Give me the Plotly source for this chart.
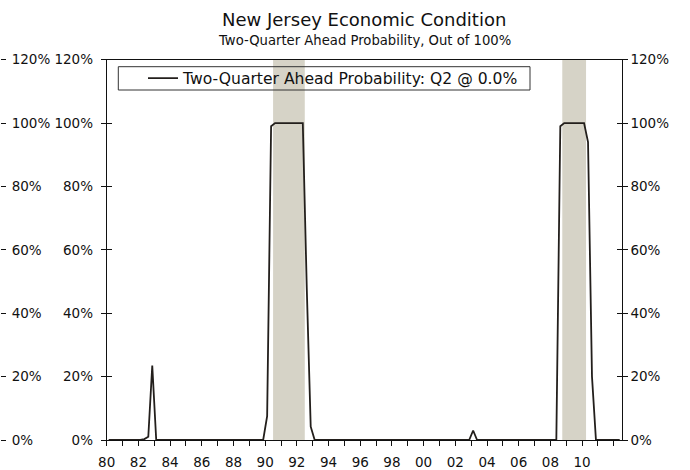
import plotly.graph_objects as go

# ---- data -------------------------------------------------------------
years = list(range(1980, 2013))
# Two-quarter ahead probability (%), quarterly, 1980Q1 .. 2012Q2
prob = [
    0, 0, 0, 0,        # 1980
    0, 0, 0, 0,        # 1981
    0, 0.3, 1, 23.5,   # 1982
    0, 0, 0, 0,        # 1983
    0, 0, 0, 0,        # 1984
    0, 0, 0, 0,        # 1985
    0, 0, 0, 0,        # 1986
    0, 0, 0, 0,        # 1987
    0, 0, 0, 0,        # 1988
    0, 0, 0, 0,        # 1989
    7.5, 99, 100, 100, # 1990
    100, 100, 100, 100,# 1991
    100, 100, 48, 4.2, # 1992
    0, 0, 0, 0,        # 1993
    0, 0, 0, 0,        # 1994
    0, 0, 0, 0,        # 1995
    0, 0, 0, 0,        # 1996
    0, 0, 0, 0,        # 1997
    0, 0, 0, 0,        # 1998
    0, 0, 0, 0,        # 1999
    0, 0, 0, 0,        # 2000
    0, 0, 0, 0,        # 2001
    0, 0, 0, 0,        # 2002
    3, 0, 0, 0,        # 2003
    0, 0, 0, 0,        # 2004
    0, 0, 0, 0,        # 2005
    0, 0, 0, 0,        # 2006
    0, 0, 0, 0,        # 2007
    0, 0, 99, 100,     # 2008
    100, 100, 100, 100,# 2009
    100, 94, 20, 0,    # 2010
    0, 0, 0, 0,        # 2011
    0, 0,              # 2012
]
recession_start = [1990.5, 2008.75]
recession_end = [1992.5, 2010.25]
x_tick_years = list(range(1980, 2011, 2))
x_tick_labels = [f"{y % 100:02d}" for y in x_tick_years]
y_ticks = [0, 20, 40, 60, 80, 100, 120]
y_tick_labels = [f"{v}%" for v in y_ticks]
series_name = "Two-Quarter Ahead Probability: Q2 @ 0.0%"
title_text = "New Jersey Economic Condition"
subtitle_text = "Two-Quarter Ahead Probability, Out of 100%"

# quarter mid-points on a numeric year scale
x_vals = [years[i // 4] + ((i % 4) + 0.5) / 4 for i in range(len(prob))]

# ---- styling ----------------------------------------------------------
W, H = 690, 470
FONT = "DejaVu Sans"
INK = "#111111"
LINE = "#231f1c"
SHADE = "#d6d3c7"
px_left, px_right = 106.7, 621.7
px_top, px_bottom = 59.7, 440.0

fig = go.Figure()
fig.add_trace(go.Scatter(
    x=x_vals, y=prob, mode="lines", name=series_name,
    line=dict(color=LINE, width=1.8), hoverinfo="skip",
))
# invisible helper traces so the extra axes are drawn
for ax in ["y2", "y3", "y4", "y5"]:
    fig.add_trace(go.Scatter(x=[x_vals[0]], y=[0], yaxis=ax, mode="markers",
                             marker=dict(opacity=0), showlegend=False,
                             hoverinfo="skip"))

for s, e in zip(recession_start, recession_end):
    fig.add_shape(type="rect", xref="x", yref="y", x0=s, x1=e, y0=0, y1=120,
                  fillcolor=SHADE, line=dict(width=0), layer="below")

# legend frame
fig.add_shape(type="rect", xref="paper", yref="paper",
              x0=118.3 / W, x1=530 / W, y0=1 - 90 / H, y1=1 - 66.7 / H,
              line=dict(color="#333333", width=1), fillcolor="rgba(0,0,0,0)")

dom_x = [px_left / W, px_right / W]
dom_y = [1 - px_bottom / H, 1 - px_top / H]
tickfont = dict(family=FONT, size=13.5, color=INK)
ybase = dict(range=[0, 120], tickvals=y_ticks, ticktext=y_tick_labels,
             showgrid=False, zeroline=False, tickfont=tickfont, tickcolor=INK,
             ticklen=5, tickwidth=1, fixedrange=True, automargin=False)

fig.update_layout(
    width=W, height=H, autosize=False,
    margin=dict(l=0, r=0, t=0, b=0),
    paper_bgcolor="white", plot_bgcolor="white",
    showlegend=True,
    legend=dict(x=143 / W, y=1 - 78.5 / H, xanchor="left", yanchor="middle",
                bgcolor="rgba(0,0,0,0)", borderwidth=0,
                font=dict(family=FONT, size=15.6, color=INK)),
    xaxis=dict(domain=dom_x, range=[1980, 2012.5], showline=True,
               linecolor=INK, linewidth=1, mirror=True, ticks="outside",
               ticklen=5, tickcolor=INK, tickvals=x_tick_years,
               ticktext=x_tick_labels, showgrid=False, zeroline=False,
               minor=dict(dtick=1, tick0=1980, ticks="outside", ticklen=5,
                          tickcolor=INK, showgrid=False),
               ticklabelstandoff=5,
               tickfont=tickfont, fixedrange=True, automargin=False),
    yaxis=dict(domain=dom_y, side="left", anchor="x", ticks="outside",
               showline=True, linecolor=INK, linewidth=1,
               ticklabelstandoff=5, **ybase),
    yaxis4=dict(overlaying="y", side="left", anchor="x", ticks="inside",
                showticklabels=False, showline=False, **ybase),
    yaxis2=dict(overlaying="y", side="right", anchor="x", ticks="outside",
                showline=True, linecolor=INK, linewidth=1, **ybase),
    yaxis5=dict(overlaying="y", side="right", anchor="x", ticks="inside",
                showticklabels=False, showline=False, **ybase),
    yaxis3=dict(overlaying="y", side="right", anchor="free", position=0,
                ticks="outside", showline=False, ticklabelstandoff=3, **ybase),
    annotations=[
        dict(text=title_text, xref="paper", yref="paper", x=364.5 / W,
             y=1 - 20 / H, xanchor="center", yanchor="middle",
             showarrow=False, font=dict(family=FONT, size=18, color=INK)),
        dict(text=subtitle_text, xref="paper", yref="paper", x=364.5 / W,
             y=1 - 41 / H, xanchor="center", yanchor="middle",
             showarrow=False, font=dict(family=FONT, size=13.2, color=INK)),
    ],
)

fig.write_html("out.html", config={"displayModeBar": False},
               post_script="document.body.style.margin='0';")
